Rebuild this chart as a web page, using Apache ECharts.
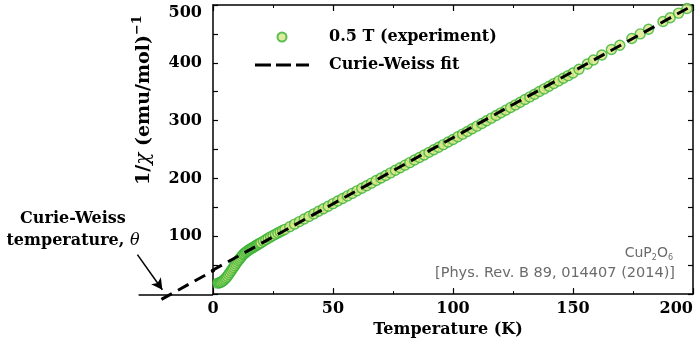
<!DOCTYPE html>
<html><head><meta charset="utf-8">
<script src="https://cdn.jsdelivr.net/npm/echarts@6/dist/echarts.min.js"></script>
<style>html,body{margin:0;padding:0;background:#fff}#c{width:698px;height:343px}</style>
</head><body><div id="c"></div>
<script>
// ---- data ----
const expTemperature = [
  2,2.5,3,3.5,4,4.5,5,5.5,6,6.5,7,7.5,8,8.5,9,9.5,10,10.5,11,11.5,12,12.5,13,13.5,14,14.5,
  15,15.5,16,16.5,17,17.5,18,18.5,19,19.5,20,21,22,23,24,25,26,27,28,29,
  30,32,34,36,38,40,42,44,46,48,50,52,54,56,58,60,62,64,66,68,70,72,74,76,78,80,
  82,84,86,88,90,92,94,96,98,100,102,104,106,108,110,112,114,116,118,120,122,124,
  126,128,130,132,134,136,138,140,142,144,146,148,150,
  152.5,156,158.5,162,166,169.5,174.5,178,181.5,187.5,190.5,194,197.5
];
const expInvChi = [
  19,19.5,20,21,22.5,24,26,28.5,31,34,37,40,43,46,49,52,55,58,60.5,63,65.5,68,70,72,73.5,75,
  76.5,78,79,80.3,81.5,82.8,84,85.3,86.5,87.8,89,91.5,94,96.5,99,101.2,103.5,105.6,107.8,110,
  112,116.6,121,125.4,129.9,134.3,138.8,143.2,147.6,152,156.5,160.9,165.3,169.8,174.2,178.6,183.1,187.5,191.9,196.4,200.8,205.2,209.7,214.1,218.5,223,
  227.4,231.9,236.3,240.7,245.2,249.6,254,258.5,263,267.5,272.1,276.7,281.3,285.9,290.5,295.1,299.7,304.3,308.9,313.5,318.1,322.7,
  327.3,331.9,336.5,341.1,345.7,350.3,354.9,359.5,364.1,368.7,373.3,377.9,382.5,
  389,398,405,413.5,423,430.5,442,450,458,471.5,478,486,494
];
const fitTemperature = [-21.5, 200];
const fitInvChi = [-7.6, 499.5];
const axisExtTemperature = [-31, 0];
const axisExtInvChi = [0, 0];
const arrowFrom = [-31.5, 69.5];
const arrowTo = [-21.1, 9];
const yTickLabels = [100, 200, 300, 400, 500];
const seriesNames = ['0.5 T (experiment)', 'Curie-Weiss fit'];

const SERIF = '"DejaVu Serif", serif';
const SANS = '"DejaVu Sans", sans-serif';
const pairs = (a, b) => a.map((v, i) => [v, b[i]]);

const chart = echarts.init(document.getElementById('c'), null, {renderer: 'canvas'});
const axisLine = {show: true, onZero: false, lineStyle: {color: '#000', width: 1.5}};
const labelStyle = {fontFamily: SERIF, fontWeight: 'bold', fontSize: 16, color: '#000'};
const fitLineStyle = {color: '#000', width: 3, type: [12, 7]};

chart.setOption({
  animation: false,
  backgroundColor: '#fff',
  grid: [
    {left: 213, top: 5, width: 480, height: 290, containLabel: false},
    // extension of the plot to negative temperatures (same scales)
    {left: 136.2, top: 5, width: 76.8, height: 295.8, containLabel: false}
  ],
  legend: {
    data: [
      {name: seriesNames[0], icon: 'circle'},
      {name: seriesNames[1], icon: 'path://M0,0h16v3h-16z M21,0h15v3h-15z M41,0h13v3h-13z'}
    ],
    orient: 'vertical', left: 250, top: 22,
    itemWidth: 54, itemHeight: 9, itemGap: 8,
    textStyle: Object.assign({}, labelStyle, {lineHeight: 20, padding: [0, 0, 0, 15]})
  },
  xAxis: [{
    type: 'value', gridIndex: 0, min: 0, max: 200, interval: 50, position: 'bottom',
    axisLine: axisLine,
    axisTick: {show: true, inside: true, length: 6, lineStyle: {color: '#000', width: 1.2}},
    minorTick: {show: true, splitNumber: 2, length: 3, lineStyle: {color: '#000', width: 1}},
    splitLine: {show: false},
    axisLabel: Object.assign({margin: 7, alignMaxLabel: 'right'}, labelStyle),
    name: 'Temperature (K)', nameLocation: 'middle', nameGap: 27,
    nameTextStyle: Object.assign({padding: [0, 10, 0, 0]}, labelStyle)
  }, {
    type: 'value', gridIndex: 0, min: 0, max: 200, interval: 50, position: 'top',
    axisLine: axisLine,
    axisTick: {show: true, inside: true, length: 6, lineStyle: {color: '#000', width: 1.2}},
    minorTick: {show: true, splitNumber: 2, length: 3, lineStyle: {color: '#000', width: 1}},
    splitLine: {show: false}, axisLabel: {show: false}
  }, {
    type: 'value', gridIndex: 1, min: -32, max: 0, show: false
  }],
  yAxis: [{
    type: 'value', gridIndex: 0, min: 0, max: 500, interval: 50, position: 'left',
    axisLine: axisLine,
    axisTick: {show: true, inside: true, length: 5, lineStyle: {color: '#000', width: 1.2}},
    splitLine: {show: false},
    axisLabel: Object.assign({
      margin: 11,
      formatter: v => yTickLabels.includes(v) ? (v === 500 ? '{t|' + v + '}' : String(v)) : '',
      rich: {t: Object.assign({padding: [16, 0, 0, 0]}, labelStyle)}
    }, labelStyle)
  }, {
    type: 'value', gridIndex: 0, min: 0, max: 500, interval: 50, position: 'right',
    axisLine: axisLine,
    axisTick: {show: true, inside: true, length: 5, lineStyle: {color: '#000', width: 1.2}},
    splitLine: {show: false}, axisLabel: {show: false}
  }, {
    type: 'value', gridIndex: 1, min: -10, max: 500, show: false
  }],
  series: [{
    name: seriesNames[0], type: 'scatter', xAxisIndex: 0, yAxisIndex: 0,
    data: pairs(expTemperature, expInvChi),
    symbol: 'circle', symbolSize: 10,
    itemStyle: {color: '#d8e685', borderColor: '#34b234', borderWidth: 1.4},
    z: 2
  }, {
    name: seriesNames[1], type: 'line', xAxisIndex: 0, yAxisIndex: 0,
    data: pairs(fitTemperature, fitInvChi),
    symbol: 'none', showSymbol: false,
    lineStyle: fitLineStyle, itemStyle: {color: '#000'},
    z: 3
  }, {
    name: 'fit-negative-T', type: 'line', xAxisIndex: 2, yAxisIndex: 2,
    data: pairs(fitTemperature, fitInvChi),
    symbol: 'none', showSymbol: false, silent: true,
    lineStyle: fitLineStyle,
    z: 3
  }, {
    name: 'axis-extension', type: 'line', xAxisIndex: 2, yAxisIndex: 2,
    data: pairs(axisExtTemperature, axisExtInvChi),
    symbol: 'none', showSymbol: false, silent: true,
    lineStyle: {color: '#000', width: 1.5},
    markLine: {
      silent: true, symbol: ['none', 'arrow'], symbolSize: [9, 11],
      label: {show: false},
      lineStyle: {color: '#000', width: 1.5, type: 'solid'},
      data: [[{coord: arrowFrom}, {coord: arrowTo}]]
    },
    z: 1
  }],
  graphic: [{
    type: 'text', x: 144, y: 100, rotation: Math.PI / 2,
    style: {
      text: '{b|1/}{i|χ}{b| (emu/mol)}{s|−1}',
      align: 'center', verticalAlign: 'middle',
      rich: {
        b: {fontFamily: SERIF, fontWeight: 'bold', fontSize: 19, fill: '#000', lineHeight: 25},
        i: {fontFamily: SERIF, fontStyle: 'italic', fontSize: 20, fill: '#000', lineHeight: 25},
        s: {fontFamily: SERIF, fontWeight: 'bold', fontSize: 13, fill: '#000', verticalAlign: 'top', lineHeight: 25}
      }
    }
  }, {
    type: 'text', x: 73, y: 208,
    style: {
      text: '{b|Curie-Weiss}\n{b|temperature, }{i|θ}',
      align: 'center', verticalAlign: 'top',
      rich: {
        b: {fontFamily: SERIF, fontWeight: 'bold', fontSize: 16, fill: '#000', lineHeight: 22},
        i: {fontFamily: SERIF, fontStyle: 'italic', fontSize: 16, fill: '#000', lineHeight: 22}
      }
    }
  }, {
    type: 'text', x: 673, y: 253,
    style: {
      text: '{n|CuP}{s|2}{n|O}{s|6}',
      align: 'right', verticalAlign: 'middle',
      rich: {
        n: {fontFamily: SANS, fontSize: 14, fill: '#6b6b6b', lineHeight: 17},
        s: {fontFamily: SANS, fontSize: 8, fill: '#6b6b6b', verticalAlign: 'bottom', lineHeight: 17}
      }
    }
  }, {
    type: 'text', x: 675, y: 273,
    style: {
      text: '[Phys. Rev. B 89, 014407 (2014)]',
      align: 'right', verticalAlign: 'middle',
      fontFamily: SANS, fontSize: 14.5, fill: '#6b6b6b'
    }
  }]
});
</script></body></html>
